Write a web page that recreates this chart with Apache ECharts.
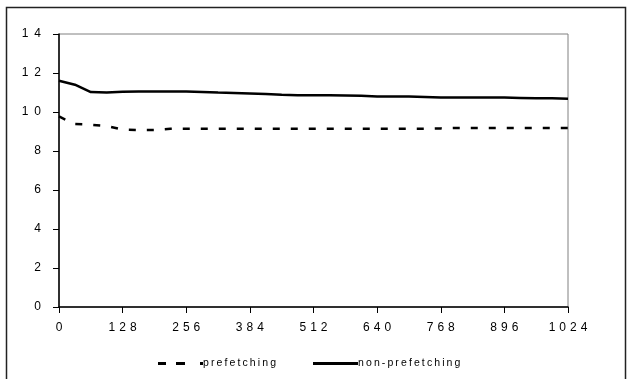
<!DOCTYPE html>
<html>
<head>
<meta charset="utf-8">
<script src="https://cdn.jsdelivr.net/npm/echarts@6/dist/echarts.min.js"></script>
<style>
html,body{margin:0;padding:0;background:#fff;}
#chart{width:629px;height:379px;}
</style>
</head>
<body>
<div id="chart"></div>
<script>
var xValues = [0,32,64,96,128,160,192,224,256,288,320,352,384,416,448,480,512,544,576,608,640,672,704,736,768,800,832,864,896,928,960,992,1024];
var prefetching = [9.77,9.38,9.35,9.28,9.10,9.07,9.08,9.14,9.14,9.14,9.14,9.14,9.14,9.14,9.14,9.14,9.14,9.14,9.14,9.14,9.14,9.14,9.14,9.14,9.16,9.18,9.18,9.18,9.18,9.18,9.18,9.18,9.18];
var nonPrefetching = [11.6,11.4,11.02,11.0,11.04,11.05,11.05,11.05,11.05,11.03,11.0,10.98,10.95,10.92,10.88,10.86,10.86,10.86,10.85,10.83,10.8,10.8,10.8,10.77,10.74,10.74,10.74,10.74,10.74,10.72,10.7,10.7,10.68];
var xTicks = [0,128,256,384,512,640,768,896,1024];
var yTicks = [0,2,4,6,8,10,12,14];

function pairs(xs, ys){ return xs.map(function(x,i){ return [x, ys[i]]; }); }
function spaced(s, sp){ return String(s).split('').join(sp || '\u2009'); }

var chart = echarts.init(document.getElementById('chart'), null, {renderer:'canvas'});
var font = 'Liberation Sans, Arial, sans-serif';
var dashIcon = 'path://M0,0h8v3h-8z M18,0h9v3h-9z M42,0h3v3h-3z';
var solidIcon = 'path://M0,0h45v3h-45z';
chart.setOption({
  animation:false,
  backgroundColor:'#fff',
  graphic:[{
    type:'rect', shape:{x:6.5,y:7.5,width:619,height:390},
    style:{fill:null, stroke:'#222', lineWidth:1.5}, z:0
  }],
  grid:{left:59,right:61,top:34,bottom:72,show:true,borderColor:'#808080',borderWidth:1,backgroundColor:'transparent'},
  xAxis:{
    type:'value', min:xTicks[0], max:xTicks[xTicks.length-1], interval:128,
    axisLine:{show:true,onZero:false,lineStyle:{color:'#000',width:1.5}},
    axisTick:{show:true,inside:false,length:6,lineStyle:{color:'#000',width:1}},
    axisLabel:{show:true,margin:15,fontFamily:font,fontSize:12,color:'#000',
      formatter:function(v){ return spaced(v,'\u2004'); }},
    splitLine:{show:false}
  },
  yAxis:{
    type:'value', min:yTicks[0], max:yTicks[yTicks.length-1], interval:2,
    axisLine:{show:true,lineStyle:{color:'#000',width:1.5}},
    axisTick:{show:true,inside:false,length:6,lineStyle:{color:'#000',width:1}},
    axisLabel:{show:true,margin:18,fontFamily:font,fontSize:12,color:'#000',
      formatter:function(v){ return spaced(v,'\u2002'); }},
    splitLine:{show:false}
  },
  legend:[{
    data:['prefetching'], left:153, top:353, itemWidth:45, itemHeight:3, icon:dashIcon,
    textStyle:{fontFamily:font,fontSize:10.5,color:'#000',padding:[0,0,0,-5]},
    formatter:function(n){ return spaced(n); }
  },{
    data:['non-prefetching'], left:308, top:353, itemWidth:45, itemHeight:3, icon:solidIcon,
    textStyle:{fontFamily:font,fontSize:10.5,color:'#000',padding:[0,0,0,-5]},
    formatter:function(n){ return spaced(n); }
  }],
  series:[{
    name:'prefetching', type:'line', data:pairs(xValues, prefetching),
    symbol:'none', smooth:false,
    lineStyle:{color:'#000',width:2.5,type:[7,11]}, itemStyle:{color:'#000'}
  },{
    name:'non-prefetching', type:'line', data:pairs(xValues, nonPrefetching),
    symbol:'none', smooth:false,
    lineStyle:{color:'#000',width:2.5,type:'solid'}, itemStyle:{color:'#000'}
  }]
});
</script>
</body>
</html>
